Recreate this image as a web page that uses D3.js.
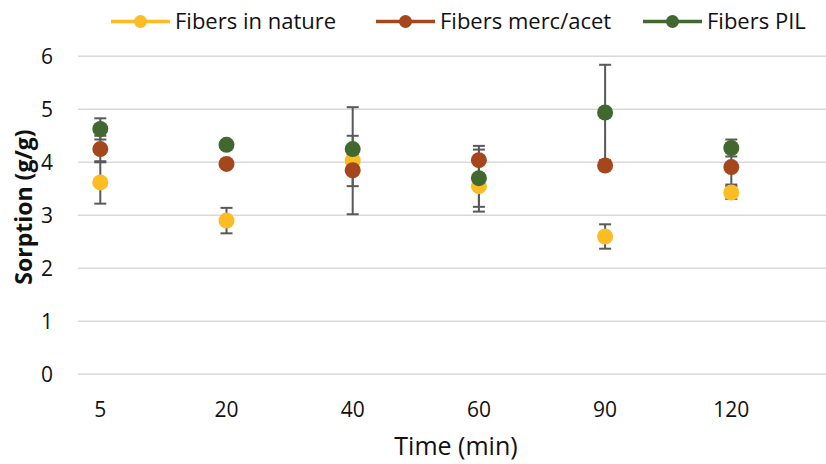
<!DOCTYPE html>
<html>
<head>
<meta charset="utf-8">
<script src="https://cdn.jsdelivr.net/npm/d3@7"></script>
<style>
  body { margin: 0; background: #fff; }
  text { font-family: "Open Sans", sans-serif; fill: #000; }
</style>
</head>
<body>
<div id="chart"></div>
<script>
// categories (time, min)
var times = ["5", "20", "40", "60", "90", "120"];
var yTicks = [0, 1, 2, 3, 4, 5, 6];

// series values (sorption g/g) and error bars
var names = ["Fibers in nature", "Fibers merc/acet", "Fibers PIL"];
var natureVals = [3.62, 2.90, 4.03, 3.55, 2.60, 3.43];
var natureErr  = [0.40, 0.24, 1.01, 0.48, 0.23, 0.12];
var mercVals   = [4.25, 3.97, 3.85, 4.04, 3.94, 3.91];
var mercErr    = [0.25, 0.05, 0.30, 0.27, 0.05, 0.33];
var pilVals    = [4.63, 4.33, 4.25, 3.70, 4.94, 4.27];
var pilErr     = [0.20, 0.05, 0.25, 0.54, 0.90, 0.16];

var colors = ["#FBBC24", "#A4471D", "#41692F"];

var series = [
  { name: names[0], vals: natureVals, err: natureErr, color: colors[0] },
  { name: names[1], vals: mercVals, err: mercErr, color: colors[1] },
  { name: names[2], vals: pilVals, err: pilErr, color: colors[2] }
];

var svgWidth = 826, svgHeight = 464;
var svg = d3.select("#chart").append("svg")
  .attr("width", svgWidth)
  .attr("height", svgHeight);

// scales
var xScale = d3.scalePoint().domain(times).range([100.3, 731.3]);
var yScale = d3.scaleLinear().domain([0, 6]).range([374.3, 56.3]);

// gridlines
svg.append("g").selectAll("line")
  .data(yTicks)
  .enter().append("line")
  .attr("x1", 78).attr("x2", 826)
  .attr("y1", d => yScale(d)).attr("y2", d => yScale(d))
  .attr("stroke", "#D9D9D9")
  .attr("stroke-width", 1.5);

// y tick labels
svg.append("g").selectAll("text")
  .data(yTicks)
  .enter().append("text")
  .attr("x", 53)
  .attr("y", d => yScale(d))
  .attr("dy", "0.36em")
  .attr("text-anchor", "end")
  .style("font-size", "21px")
  .style("fill", "#111")
  .text(d => d);

// x tick labels
svg.append("g").selectAll("text")
  .data(times)
  .enter().append("text")
  .attr("x", d => xScale(d))
  .attr("y", 417)
  .attr("text-anchor", "middle")
  .style("font-size", "21px")
  .style("fill", "#111")
  .text(d => d);

// axis titles
svg.append("text")
  .attr("x", 456)
  .attr("y", 455)
  .attr("text-anchor", "middle")
  .style("font-size", "25px")
  .style("fill", "#111")
  .text("Time (min)");

svg.append("text")
  .attr("transform", "translate(32, 207) rotate(-90)")
  .attr("text-anchor", "middle")
  .style("font-size", "23px")
  .style("font-weight", "bold")
  .style("fill", "#111")
  .text("Sorption (g/g)");

// error bars
var errGroup = svg.append("g");
series.forEach(function(s) {
  times.forEach(function(t, i) {
    var x = xScale(t);
    var hi = yScale(s.vals[i] + s.err[i]);
    var lo = yScale(s.vals[i] - s.err[i]);
    errGroup.append("line")
      .attr("x1", x).attr("x2", x).attr("y1", hi).attr("y2", lo)
      .attr("stroke", "#595959").attr("stroke-width", 2);
    [hi, lo].forEach(function(yy) {
      errGroup.append("line")
        .attr("x1", x - 6).attr("x2", x + 6).attr("y1", yy).attr("y2", yy)
        .attr("stroke", "#595959").attr("stroke-width", 2);
    });
  });
});

// points
series.forEach(function(s) {
  svg.append("g").selectAll("circle")
    .data(s.vals)
    .enter().append("circle")
    .attr("cx", (d, i) => xScale(times[i]))
    .attr("cy", d => yScale(d))
    .attr("r", 8)
    .attr("fill", s.color);
});

// legend
var legendX = [111, 376, 643];
var legend = svg.append("g");
series.forEach(function(s, i) {
  var g = legend.append("g").attr("transform", `translate(${legendX[i]}, 21.5)`);
  g.append("line")
    .attr("x1", 0).attr("x2", 59).attr("y1", 0).attr("y2", 0)
    .attr("stroke", s.color).attr("stroke-width", 3.5);
  g.append("circle")
    .attr("cx", 29.5).attr("cy", 0).attr("r", 6.5)
    .attr("fill", s.color);
  g.append("text")
    .attr("x", 64)
    .attr("y", 0)
    .attr("dy", "0.36em")
    .style("font-size", "22px")
    .style("fill", "#111")
    .text(s.name);
});
</script>
</body>
</html>
